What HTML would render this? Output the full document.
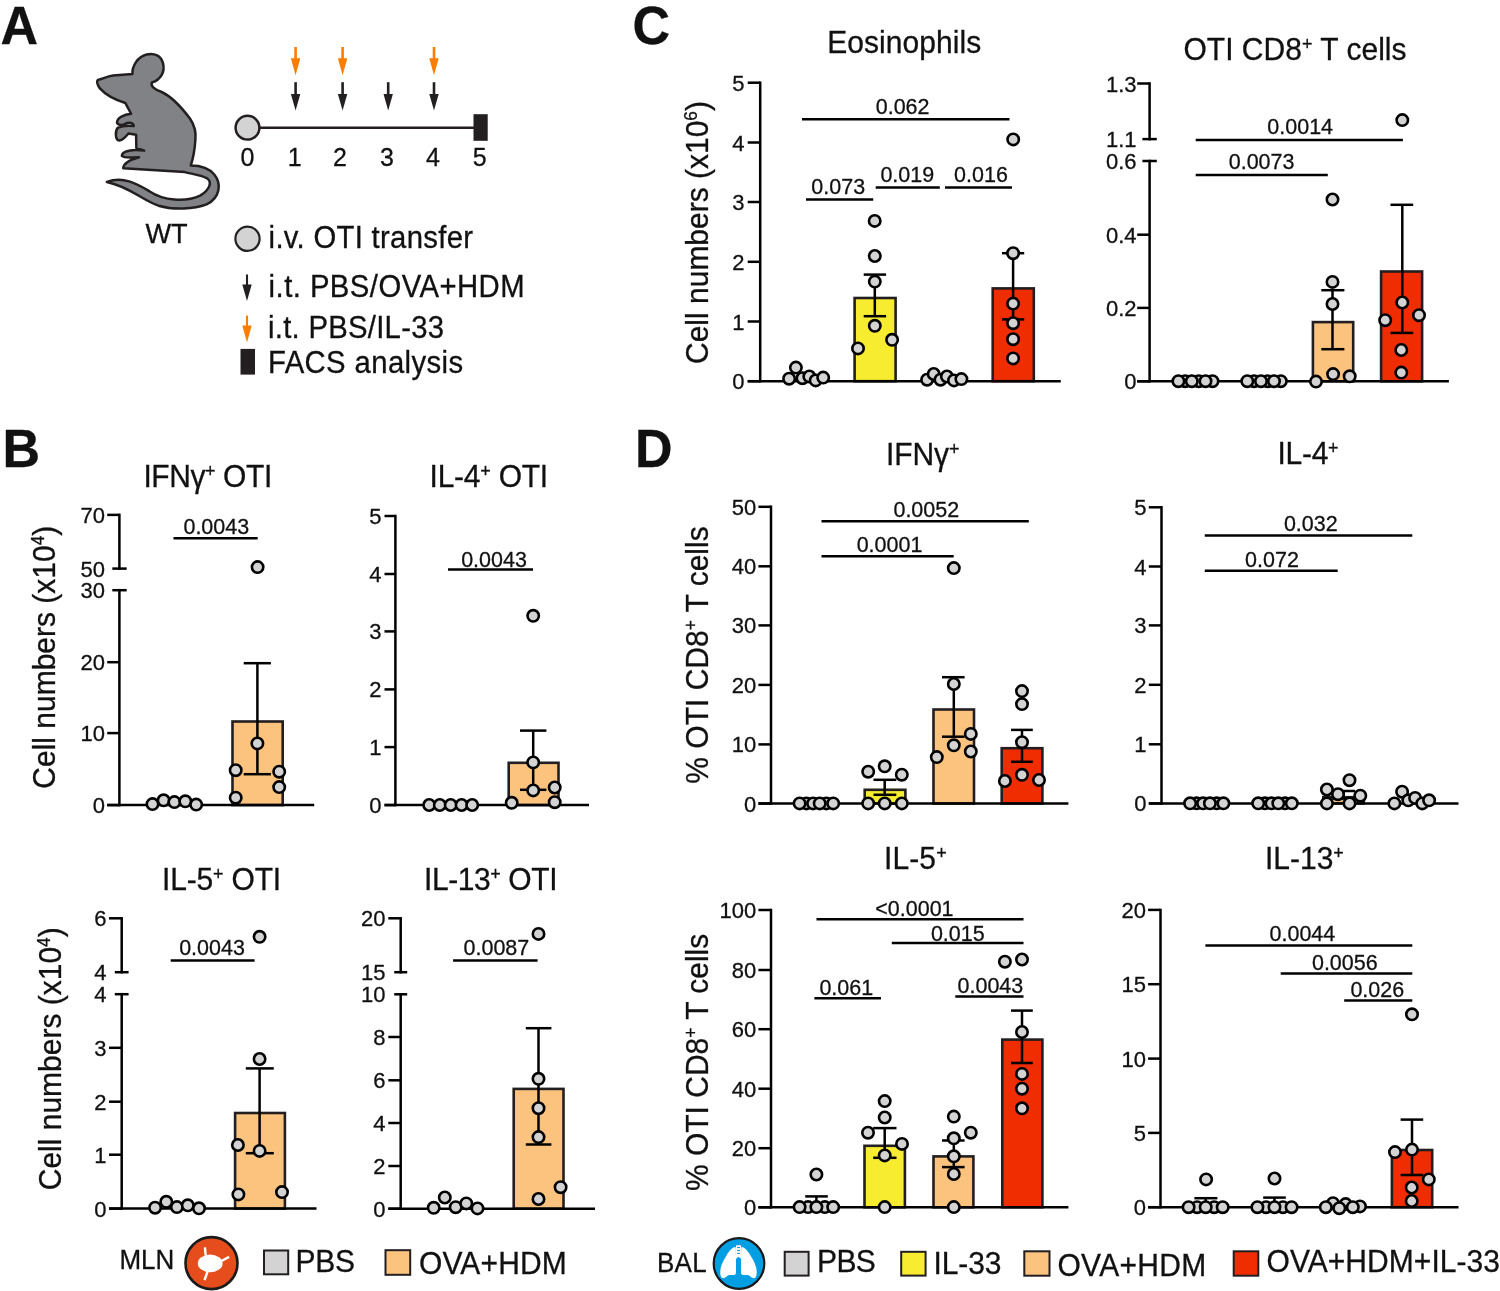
<!DOCTYPE html><html><head><meta charset="utf-8"><title>Figure</title><style>html,body{margin:0;padding:0;background:#fff;width:1500px;height:1291px;overflow:hidden}svg{display:block;font-family:"Liberation Sans", sans-serif;will-change:transform} text{stroke:#111;stroke-width:0.3px}</style></head><body><svg width="1500" height="1291" viewBox="0 0 1500 1291" font-family='"Liberation Sans", sans-serif' fill="#111">
<rect width="1500" height="1291" fill="#fff"/>
<text transform="translate(0.50,44.00) scale(0.9615,1)" font-size="54.08" text-anchor="start" font-weight="bold" >A</text>
<text transform="translate(2.50,467.00) scale(0.9615,1)" font-size="54.08" text-anchor="start" font-weight="bold" >B</text>
<text transform="translate(632.50,43.50) scale(0.9615,1)" font-size="54.08" text-anchor="start" font-weight="bold" >C</text>
<text transform="translate(635.00,467.00) scale(0.9615,1)" font-size="54.08" text-anchor="start" font-weight="bold" >D</text>
<path transform="translate(90,45) scale(0.13170)" d="M60,265 C100,255 130,238 175,232 L322,220 C320,160 360,90 430,72 C490,60 540,80 555,140 C570,200 540,262 470,285 C458,312 490,338 540,355 C620,390 700,480 760,560 C800,620 805,680 800,720 C795,800 780,870 765,915 C830,915 905,935 945,985 C995,1048 995,1155 885,1210 C790,1245 640,1255 520,1220 C400,1180 300,1075 128,1040 C250,995 350,1050 450,1110 C560,1182 720,1198 840,1142 C905,1100 935,1040 885,1010 C845,990 780,980 720,965 L252,935 C255,900 300,872 372,852 C320,852 262,862 242,842 C240,800 330,792 412,802 L352,782 L350,682 L292,672 C272,695 252,722 222,726 C190,722 190,652 212,628 C250,612 300,612 332,616 C332,594 300,582 272,596 C250,610 215,612 205,590 C205,550 260,528 312,522 L268,440 C200,420 120,380 75,330 C55,300 50,275 60,265 Z" fill="#808285" stroke="#231f20" stroke-width="19" stroke-linejoin="round"/>
<text transform="translate(166.60,242.70) scale(0.9615,1)" font-size="28.29" text-anchor="middle" font-weight="normal" >WT</text>
<line x1="259.00" y1="127.70" x2="474.00" y2="127.70" stroke="#231f20" stroke-width="2.4" stroke-linecap="butt"/>
<circle cx="247.5" cy="127.7" r="11.9" fill="#d3d3d3" stroke="#231f20" stroke-width="2.5"/>
<rect x="473.5" y="114.2" width="14.2" height="26.6" fill="#231f20"/>
<text transform="translate(247.40,166.00) scale(0.9615,1)" font-size="26.00" text-anchor="middle" font-weight="normal" >0</text>
<text transform="translate(294.70,166.00) scale(0.9615,1)" font-size="26.00" text-anchor="middle" font-weight="normal" >1</text>
<text transform="translate(340.00,166.00) scale(0.9615,1)" font-size="26.00" text-anchor="middle" font-weight="normal" >2</text>
<text transform="translate(386.90,166.00) scale(0.9615,1)" font-size="26.00" text-anchor="middle" font-weight="normal" >3</text>
<text transform="translate(433.00,166.00) scale(0.9615,1)" font-size="26.00" text-anchor="middle" font-weight="normal" >4</text>
<text transform="translate(479.80,166.00) scale(0.9615,1)" font-size="26.00" text-anchor="middle" font-weight="normal" >5</text>
<line x1="295.6" y1="47.0" x2="295.6" y2="60.2" stroke="#fb7d00" stroke-width="2.6"/>
<path d="M290.90000000000003,58.2 L300.3,58.2 L295.6,75.2 Z" fill="#fb7d00"/>
<line x1="342.6" y1="47.0" x2="342.6" y2="60.2" stroke="#fb7d00" stroke-width="2.6"/>
<path d="M337.90000000000003,58.2 L347.3,58.2 L342.6,75.2 Z" fill="#fb7d00"/>
<line x1="434.0" y1="47.0" x2="434.0" y2="60.2" stroke="#fb7d00" stroke-width="2.6"/>
<path d="M429.3,58.2 L438.7,58.2 L434.0,75.2 Z" fill="#fb7d00"/>
<line x1="295.6" y1="82.2" x2="295.6" y2="96.1" stroke="#231f20" stroke-width="2.6"/>
<path d="M290.90000000000003,94.1 L300.3,94.1 L295.6,110.6 Z" fill="#231f20"/>
<line x1="342.6" y1="82.2" x2="342.6" y2="96.1" stroke="#231f20" stroke-width="2.6"/>
<path d="M337.90000000000003,94.1 L347.3,94.1 L342.6,110.6 Z" fill="#231f20"/>
<line x1="388.2" y1="82.2" x2="388.2" y2="96.1" stroke="#231f20" stroke-width="2.6"/>
<path d="M383.5,94.1 L392.9,94.1 L388.2,110.6 Z" fill="#231f20"/>
<line x1="434.0" y1="82.2" x2="434.0" y2="96.1" stroke="#231f20" stroke-width="2.6"/>
<path d="M429.3,94.1 L438.7,94.1 L434.0,110.6 Z" fill="#231f20"/>
<circle cx="247.5" cy="238.8" r="12.1" fill="#d3d3d3" stroke="#231f20" stroke-width="2.2"/>
<text transform="translate(268.60,248.30) scale(0.9615,1)" font-size="30.47" text-anchor="start" font-weight="normal" letter-spacing="0.312" >i.v. OTI transfer</text>
<line x1="247.0" y1="274.5" x2="247.0" y2="286.6" stroke="#231f20" stroke-width="2.1"/>
<path d="M242.3,284.6 L251.7,284.6 L247.0,301.1 Z" fill="#231f20"/>
<text transform="translate(268.60,297.40) scale(0.9615,1)" font-size="30.47" text-anchor="start" font-weight="normal" letter-spacing="0.466" >i.t. PBS/OVA+HDM</text>
<line x1="247.0" y1="315.6" x2="247.0" y2="327.5" stroke="#fb7d00" stroke-width="2.1"/>
<path d="M242.3,325.5 L251.7,325.5 L247.0,342.4 Z" fill="#fb7d00"/>
<text transform="translate(268.00,338.30) scale(0.9615,1)" font-size="30.47" text-anchor="start" font-weight="normal" letter-spacing="0.278" >i.t. PBS/IL-33</text>
<rect x="240.5" y="348.9" width="14.5" height="25.7" fill="#231f20"/>
<text transform="translate(268.00,373.40) scale(0.9615,1)" font-size="30.47" text-anchor="start" font-weight="normal" letter-spacing="0.400" >FACS analysis</text>
<rect x="232.50" y="721.50" width="50.20" height="83.60" fill="#fcc37f" stroke="#231f20" stroke-width="2.6"/>
<line x1="257.40" y1="663.20" x2="257.40" y2="774.20" stroke="#000" stroke-width="2.5" stroke-linecap="butt"/>
<line x1="243.70" y1="663.20" x2="270.90" y2="663.20" stroke="#000" stroke-width="2.5" stroke-linecap="butt"/>
<line x1="243.70" y1="774.20" x2="270.90" y2="774.20" stroke="#000" stroke-width="2.5" stroke-linecap="butt"/>
<line x1="119.40" y1="513.65" x2="119.40" y2="569.85" stroke="#000" stroke-width="2.5" stroke-linecap="butt"/>
<line x1="119.40" y1="588.95" x2="119.40" y2="806.35" stroke="#000" stroke-width="2.5" stroke-linecap="butt"/>
<line x1="107.20" y1="805.10" x2="314.20" y2="805.10" stroke="#000" stroke-width="2.5" stroke-linecap="butt"/>
<line x1="107.20" y1="514.90" x2="119.40" y2="514.90" stroke="#000" stroke-width="2.5" stroke-linecap="butt"/>
<text transform="translate(105.00,522.98) scale(0.9615,1)" font-size="22.88" text-anchor="end" font-weight="normal" >70</text>
<line x1="112.30" y1="568.60" x2="126.70" y2="568.60" stroke="#000" stroke-width="2.5" stroke-linecap="butt"/>
<text transform="translate(105.00,576.68) scale(0.9615,1)" font-size="22.88" text-anchor="end" font-weight="normal" >50</text>
<line x1="112.30" y1="590.20" x2="126.70" y2="590.20" stroke="#000" stroke-width="2.5" stroke-linecap="butt"/>
<text transform="translate(105.00,598.28) scale(0.9615,1)" font-size="22.88" text-anchor="end" font-weight="normal" >30</text>
<line x1="107.20" y1="662.20" x2="119.40" y2="662.20" stroke="#000" stroke-width="2.5" stroke-linecap="butt"/>
<text transform="translate(105.00,670.28) scale(0.9615,1)" font-size="22.88" text-anchor="end" font-weight="normal" >20</text>
<line x1="107.20" y1="733.10" x2="119.40" y2="733.10" stroke="#000" stroke-width="2.5" stroke-linecap="butt"/>
<text transform="translate(105.00,741.18) scale(0.9615,1)" font-size="22.88" text-anchor="end" font-weight="normal" >10</text>
<line x1="107.20" y1="805.10" x2="119.40" y2="805.10" stroke="#000" stroke-width="2.5" stroke-linecap="butt"/>
<text transform="translate(105.00,813.18) scale(0.9615,1)" font-size="22.88" text-anchor="end" font-weight="normal" >0</text>
<line x1="173.50" y1="538.30" x2="257.70" y2="538.30" stroke="#000" stroke-width="2.5" stroke-linecap="butt"/>
<text transform="translate(216.30,534.00) scale(0.9615,1)" font-size="22.36" text-anchor="middle" font-weight="normal" >0.0043</text>
<circle cx="152.50" cy="804.10" r="5.7" fill="#d3d3d3" stroke="#000" stroke-width="2.6"/>
<circle cx="163.60" cy="800.30" r="5.7" fill="#d3d3d3" stroke="#000" stroke-width="2.6"/>
<circle cx="174.40" cy="802.10" r="5.7" fill="#d3d3d3" stroke="#000" stroke-width="2.6"/>
<circle cx="185.30" cy="801.30" r="5.7" fill="#d3d3d3" stroke="#000" stroke-width="2.6"/>
<circle cx="196.20" cy="804.60" r="5.7" fill="#d3d3d3" stroke="#000" stroke-width="2.6"/>
<circle cx="257.60" cy="567.10" r="5.7" fill="#d3d3d3" stroke="#000" stroke-width="2.6"/>
<circle cx="257.40" cy="743.40" r="5.7" fill="#d3d3d3" stroke="#000" stroke-width="2.6"/>
<circle cx="235.70" cy="770.20" r="5.7" fill="#d3d3d3" stroke="#000" stroke-width="2.6"/>
<circle cx="279.20" cy="771.70" r="5.7" fill="#d3d3d3" stroke="#000" stroke-width="2.6"/>
<circle cx="279.20" cy="787.10" r="5.7" fill="#d3d3d3" stroke="#000" stroke-width="2.6"/>
<circle cx="235.70" cy="797.70" r="5.7" fill="#d3d3d3" stroke="#000" stroke-width="2.6"/>
<rect x="508.70" y="762.80" width="49.80" height="42.30" fill="#fcc37f" stroke="#231f20" stroke-width="2.6"/>
<line x1="533.20" y1="730.60" x2="533.20" y2="789.80" stroke="#000" stroke-width="2.5" stroke-linecap="butt"/>
<line x1="520.00" y1="730.60" x2="546.40" y2="730.60" stroke="#000" stroke-width="2.5" stroke-linecap="butt"/>
<line x1="520.00" y1="789.80" x2="546.40" y2="789.80" stroke="#000" stroke-width="2.5" stroke-linecap="butt"/>
<line x1="395.40" y1="514.75" x2="395.40" y2="806.35" stroke="#000" stroke-width="2.5" stroke-linecap="butt"/>
<line x1="384.50" y1="805.10" x2="589.00" y2="805.10" stroke="#000" stroke-width="2.5" stroke-linecap="butt"/>
<line x1="384.50" y1="516.00" x2="395.40" y2="516.00" stroke="#000" stroke-width="2.5" stroke-linecap="butt"/>
<text transform="translate(381.50,524.08) scale(0.9615,1)" font-size="22.88" text-anchor="end" font-weight="normal" >5</text>
<line x1="384.50" y1="574.00" x2="395.40" y2="574.00" stroke="#000" stroke-width="2.5" stroke-linecap="butt"/>
<text transform="translate(381.50,582.08) scale(0.9615,1)" font-size="22.88" text-anchor="end" font-weight="normal" >4</text>
<line x1="384.50" y1="631.40" x2="395.40" y2="631.40" stroke="#000" stroke-width="2.5" stroke-linecap="butt"/>
<text transform="translate(381.50,639.48) scale(0.9615,1)" font-size="22.88" text-anchor="end" font-weight="normal" >3</text>
<line x1="384.50" y1="689.40" x2="395.40" y2="689.40" stroke="#000" stroke-width="2.5" stroke-linecap="butt"/>
<text transform="translate(381.50,697.48) scale(0.9615,1)" font-size="22.88" text-anchor="end" font-weight="normal" >2</text>
<line x1="384.50" y1="747.10" x2="395.40" y2="747.10" stroke="#000" stroke-width="2.5" stroke-linecap="butt"/>
<text transform="translate(381.50,755.18) scale(0.9615,1)" font-size="22.88" text-anchor="end" font-weight="normal" >1</text>
<line x1="384.50" y1="805.10" x2="395.40" y2="805.10" stroke="#000" stroke-width="2.5" stroke-linecap="butt"/>
<text transform="translate(381.50,813.18) scale(0.9615,1)" font-size="22.88" text-anchor="end" font-weight="normal" >0</text>
<line x1="448.00" y1="569.60" x2="533.00" y2="569.60" stroke="#000" stroke-width="2.5" stroke-linecap="butt"/>
<text transform="translate(494.00,566.60) scale(0.9615,1)" font-size="22.36" text-anchor="middle" font-weight="normal" >0.0043</text>
<circle cx="429.20" cy="805.00" r="5.7" fill="#d3d3d3" stroke="#000" stroke-width="2.6"/>
<circle cx="439.80" cy="805.00" r="5.7" fill="#d3d3d3" stroke="#000" stroke-width="2.6"/>
<circle cx="450.70" cy="805.00" r="5.7" fill="#d3d3d3" stroke="#000" stroke-width="2.6"/>
<circle cx="461.60" cy="805.00" r="5.7" fill="#d3d3d3" stroke="#000" stroke-width="2.6"/>
<circle cx="472.20" cy="805.00" r="5.7" fill="#d3d3d3" stroke="#000" stroke-width="2.6"/>
<circle cx="533.20" cy="615.80" r="5.7" fill="#d3d3d3" stroke="#000" stroke-width="2.6"/>
<circle cx="533.20" cy="762.40" r="5.7" fill="#d3d3d3" stroke="#000" stroke-width="2.6"/>
<circle cx="554.70" cy="787.50" r="5.7" fill="#d3d3d3" stroke="#000" stroke-width="2.6"/>
<circle cx="533.20" cy="790.40" r="5.7" fill="#d3d3d3" stroke="#000" stroke-width="2.6"/>
<circle cx="511.70" cy="802.80" r="5.7" fill="#d3d3d3" stroke="#000" stroke-width="2.6"/>
<circle cx="554.70" cy="802.20" r="5.7" fill="#d3d3d3" stroke="#000" stroke-width="2.6"/>
<rect x="235.10" y="1113.00" width="49.80" height="95.60" fill="#fcc37f" stroke="#231f20" stroke-width="2.6"/>
<line x1="259.60" y1="1068.40" x2="259.60" y2="1153.20" stroke="#000" stroke-width="2.5" stroke-linecap="butt"/>
<line x1="245.80" y1="1068.40" x2="273.80" y2="1068.40" stroke="#000" stroke-width="2.5" stroke-linecap="butt"/>
<line x1="245.80" y1="1153.20" x2="273.80" y2="1153.20" stroke="#000" stroke-width="2.5" stroke-linecap="butt"/>
<line x1="121.70" y1="917.05" x2="121.70" y2="973.45" stroke="#000" stroke-width="2.5" stroke-linecap="butt"/>
<line x1="121.70" y1="992.95" x2="121.70" y2="1209.85" stroke="#000" stroke-width="2.5" stroke-linecap="butt"/>
<line x1="109.00" y1="1208.60" x2="316.50" y2="1208.60" stroke="#000" stroke-width="2.5" stroke-linecap="butt"/>
<line x1="109.00" y1="918.30" x2="121.70" y2="918.30" stroke="#000" stroke-width="2.5" stroke-linecap="butt"/>
<text transform="translate(106.50,926.38) scale(0.9615,1)" font-size="22.88" text-anchor="end" font-weight="normal" >6</text>
<line x1="114.80" y1="972.20" x2="128.60" y2="972.20" stroke="#000" stroke-width="2.5" stroke-linecap="butt"/>
<text transform="translate(106.50,980.28) scale(0.9615,1)" font-size="22.88" text-anchor="end" font-weight="normal" >4</text>
<line x1="114.80" y1="994.20" x2="128.60" y2="994.20" stroke="#000" stroke-width="2.5" stroke-linecap="butt"/>
<text transform="translate(106.50,1002.28) scale(0.9615,1)" font-size="22.88" text-anchor="end" font-weight="normal" >4</text>
<line x1="109.00" y1="1047.80" x2="121.70" y2="1047.80" stroke="#000" stroke-width="2.5" stroke-linecap="butt"/>
<text transform="translate(106.50,1055.88) scale(0.9615,1)" font-size="22.88" text-anchor="end" font-weight="normal" >3</text>
<line x1="109.00" y1="1101.70" x2="121.70" y2="1101.70" stroke="#000" stroke-width="2.5" stroke-linecap="butt"/>
<text transform="translate(106.50,1109.78) scale(0.9615,1)" font-size="22.88" text-anchor="end" font-weight="normal" >2</text>
<line x1="109.00" y1="1154.70" x2="121.70" y2="1154.70" stroke="#000" stroke-width="2.5" stroke-linecap="butt"/>
<text transform="translate(106.50,1162.78) scale(0.9615,1)" font-size="22.88" text-anchor="end" font-weight="normal" >1</text>
<line x1="109.00" y1="1208.60" x2="121.70" y2="1208.60" stroke="#000" stroke-width="2.5" stroke-linecap="butt"/>
<text transform="translate(106.50,1216.68) scale(0.9615,1)" font-size="22.88" text-anchor="end" font-weight="normal" >0</text>
<line x1="170.70" y1="960.40" x2="254.60" y2="960.40" stroke="#000" stroke-width="2.5" stroke-linecap="butt"/>
<text transform="translate(212.00,955.30) scale(0.9615,1)" font-size="22.36" text-anchor="middle" font-weight="normal" >0.0043</text>
<circle cx="155.10" cy="1207.70" r="5.7" fill="#d3d3d3" stroke="#000" stroke-width="2.6"/>
<circle cx="166.30" cy="1201.80" r="5.7" fill="#d3d3d3" stroke="#000" stroke-width="2.6"/>
<circle cx="176.90" cy="1207.10" r="5.7" fill="#d3d3d3" stroke="#000" stroke-width="2.6"/>
<circle cx="187.80" cy="1205.30" r="5.7" fill="#d3d3d3" stroke="#000" stroke-width="2.6"/>
<circle cx="199.00" cy="1208.30" r="5.7" fill="#d3d3d3" stroke="#000" stroke-width="2.6"/>
<circle cx="259.60" cy="936.80" r="5.7" fill="#d3d3d3" stroke="#000" stroke-width="2.6"/>
<circle cx="259.60" cy="1059.00" r="5.7" fill="#d3d3d3" stroke="#000" stroke-width="2.6"/>
<circle cx="237.90" cy="1145.00" r="5.7" fill="#d3d3d3" stroke="#000" stroke-width="2.6"/>
<circle cx="259.60" cy="1150.90" r="5.7" fill="#d3d3d3" stroke="#000" stroke-width="2.6"/>
<circle cx="282.00" cy="1192.10" r="5.7" fill="#d3d3d3" stroke="#000" stroke-width="2.6"/>
<circle cx="238.40" cy="1194.40" r="5.7" fill="#d3d3d3" stroke="#000" stroke-width="2.6"/>
<rect x="513.70" y="1088.90" width="49.80" height="119.80" fill="#fcc37f" stroke="#231f20" stroke-width="2.6"/>
<line x1="538.50" y1="1028.20" x2="538.50" y2="1144.50" stroke="#000" stroke-width="2.5" stroke-linecap="butt"/>
<line x1="525.80" y1="1028.20" x2="551.40" y2="1028.20" stroke="#000" stroke-width="2.5" stroke-linecap="butt"/>
<line x1="525.80" y1="1144.50" x2="551.40" y2="1144.50" stroke="#000" stroke-width="2.5" stroke-linecap="butt"/>
<line x1="400.70" y1="917.05" x2="400.70" y2="973.45" stroke="#000" stroke-width="2.5" stroke-linecap="butt"/>
<line x1="400.70" y1="993.05" x2="400.70" y2="1209.95" stroke="#000" stroke-width="2.5" stroke-linecap="butt"/>
<line x1="388.30" y1="1208.70" x2="595.00" y2="1208.70" stroke="#000" stroke-width="2.5" stroke-linecap="butt"/>
<line x1="388.30" y1="918.30" x2="400.70" y2="918.30" stroke="#000" stroke-width="2.5" stroke-linecap="butt"/>
<text transform="translate(385.50,926.38) scale(0.9615,1)" font-size="22.88" text-anchor="end" font-weight="normal" >20</text>
<line x1="394.20" y1="972.20" x2="407.20" y2="972.20" stroke="#000" stroke-width="2.5" stroke-linecap="butt"/>
<text transform="translate(385.50,980.28) scale(0.9615,1)" font-size="22.88" text-anchor="end" font-weight="normal" >15</text>
<line x1="394.20" y1="994.30" x2="407.20" y2="994.30" stroke="#000" stroke-width="2.5" stroke-linecap="butt"/>
<text transform="translate(385.50,1002.38) scale(0.9615,1)" font-size="22.88" text-anchor="end" font-weight="normal" >10</text>
<line x1="388.30" y1="1037.00" x2="400.70" y2="1037.00" stroke="#000" stroke-width="2.5" stroke-linecap="butt"/>
<text transform="translate(385.50,1045.08) scale(0.9615,1)" font-size="22.88" text-anchor="end" font-weight="normal" >8</text>
<line x1="388.30" y1="1080.30" x2="400.70" y2="1080.30" stroke="#000" stroke-width="2.5" stroke-linecap="butt"/>
<text transform="translate(385.50,1088.38) scale(0.9615,1)" font-size="22.88" text-anchor="end" font-weight="normal" >6</text>
<line x1="388.30" y1="1123.00" x2="400.70" y2="1123.00" stroke="#000" stroke-width="2.5" stroke-linecap="butt"/>
<text transform="translate(385.50,1131.08) scale(0.9615,1)" font-size="22.88" text-anchor="end" font-weight="normal" >4</text>
<line x1="388.30" y1="1166.00" x2="400.70" y2="1166.00" stroke="#000" stroke-width="2.5" stroke-linecap="butt"/>
<text transform="translate(385.50,1174.08) scale(0.9615,1)" font-size="22.88" text-anchor="end" font-weight="normal" >2</text>
<line x1="388.30" y1="1208.70" x2="400.70" y2="1208.70" stroke="#000" stroke-width="2.5" stroke-linecap="butt"/>
<text transform="translate(385.50,1216.78) scale(0.9615,1)" font-size="22.88" text-anchor="end" font-weight="normal" >0</text>
<line x1="453.10" y1="960.40" x2="537.60" y2="960.40" stroke="#000" stroke-width="2.5" stroke-linecap="butt"/>
<text transform="translate(496.40,955.30) scale(0.9615,1)" font-size="22.36" text-anchor="middle" font-weight="normal" >0.0087</text>
<circle cx="433.70" cy="1207.80" r="5.7" fill="#d3d3d3" stroke="#000" stroke-width="2.6"/>
<circle cx="444.80" cy="1197.50" r="5.7" fill="#d3d3d3" stroke="#000" stroke-width="2.6"/>
<circle cx="455.70" cy="1207.20" r="5.7" fill="#d3d3d3" stroke="#000" stroke-width="2.6"/>
<circle cx="466.30" cy="1203.40" r="5.7" fill="#d3d3d3" stroke="#000" stroke-width="2.6"/>
<circle cx="477.50" cy="1208.40" r="5.7" fill="#d3d3d3" stroke="#000" stroke-width="2.6"/>
<circle cx="538.50" cy="933.90" r="5.7" fill="#d3d3d3" stroke="#000" stroke-width="2.6"/>
<circle cx="538.50" cy="1078.80" r="5.7" fill="#d3d3d3" stroke="#000" stroke-width="2.6"/>
<circle cx="538.50" cy="1108.20" r="5.7" fill="#d3d3d3" stroke="#000" stroke-width="2.6"/>
<circle cx="538.50" cy="1137.10" r="5.7" fill="#d3d3d3" stroke="#000" stroke-width="2.6"/>
<circle cx="560.60" cy="1187.20" r="5.7" fill="#d3d3d3" stroke="#000" stroke-width="2.6"/>
<circle cx="538.50" cy="1199.00" r="5.7" fill="#d3d3d3" stroke="#000" stroke-width="2.6"/>
<rect x="854.60" y="298.00" width="41.00" height="83.20" fill="#f8ec31" stroke="#231f20" stroke-width="2.6"/>
<rect x="992.70" y="288.40" width="41.10" height="92.80" fill="#f02d00" stroke="#231f20" stroke-width="2.6"/>
<line x1="874.80" y1="274.60" x2="874.80" y2="316.20" stroke="#000" stroke-width="2.5" stroke-linecap="butt"/>
<line x1="863.70" y1="274.60" x2="886.10" y2="274.60" stroke="#000" stroke-width="2.5" stroke-linecap="butt"/>
<line x1="863.70" y1="316.20" x2="886.10" y2="316.20" stroke="#000" stroke-width="2.5" stroke-linecap="butt"/>
<line x1="1013.10" y1="253.20" x2="1013.10" y2="319.40" stroke="#000" stroke-width="2.5" stroke-linecap="butt"/>
<line x1="1002.00" y1="253.20" x2="1024.20" y2="253.20" stroke="#000" stroke-width="2.5" stroke-linecap="butt"/>
<line x1="1002.00" y1="319.40" x2="1024.20" y2="319.40" stroke="#000" stroke-width="2.5" stroke-linecap="butt"/>
<line x1="760.20" y1="81.45" x2="760.20" y2="382.45" stroke="#000" stroke-width="2.5" stroke-linecap="butt"/>
<line x1="747.70" y1="381.20" x2="1060.80" y2="381.20" stroke="#000" stroke-width="2.5" stroke-linecap="butt"/>
<line x1="747.70" y1="82.70" x2="760.20" y2="82.70" stroke="#000" stroke-width="2.5" stroke-linecap="butt"/>
<text transform="translate(744.50,90.78) scale(0.9615,1)" font-size="22.88" text-anchor="end" font-weight="normal" >5</text>
<line x1="747.70" y1="142.50" x2="760.20" y2="142.50" stroke="#000" stroke-width="2.5" stroke-linecap="butt"/>
<text transform="translate(744.50,150.58) scale(0.9615,1)" font-size="22.88" text-anchor="end" font-weight="normal" >4</text>
<line x1="747.70" y1="202.00" x2="760.20" y2="202.00" stroke="#000" stroke-width="2.5" stroke-linecap="butt"/>
<text transform="translate(744.50,210.08) scale(0.9615,1)" font-size="22.88" text-anchor="end" font-weight="normal" >3</text>
<line x1="747.70" y1="261.80" x2="760.20" y2="261.80" stroke="#000" stroke-width="2.5" stroke-linecap="butt"/>
<text transform="translate(744.50,269.88) scale(0.9615,1)" font-size="22.88" text-anchor="end" font-weight="normal" >2</text>
<line x1="747.70" y1="321.50" x2="760.20" y2="321.50" stroke="#000" stroke-width="2.5" stroke-linecap="butt"/>
<text transform="translate(744.50,329.58) scale(0.9615,1)" font-size="22.88" text-anchor="end" font-weight="normal" >1</text>
<line x1="747.70" y1="381.20" x2="760.20" y2="381.20" stroke="#000" stroke-width="2.5" stroke-linecap="butt"/>
<text transform="translate(744.50,389.28) scale(0.9615,1)" font-size="22.88" text-anchor="end" font-weight="normal" >0</text>
<line x1="802.00" y1="119.20" x2="1009.50" y2="119.20" stroke="#000" stroke-width="2.5" stroke-linecap="butt"/>
<text transform="translate(902.60,114.20) scale(0.9615,1)" font-size="22.36" text-anchor="middle" font-weight="normal" >0.062</text>
<line x1="806.00" y1="199.60" x2="873.20" y2="199.60" stroke="#000" stroke-width="2.5" stroke-linecap="butt"/>
<text transform="translate(838.20,193.70) scale(0.9615,1)" font-size="22.36" text-anchor="middle" font-weight="normal" >0.073</text>
<line x1="875.70" y1="187.40" x2="939.80" y2="187.40" stroke="#000" stroke-width="2.5" stroke-linecap="butt"/>
<text transform="translate(907.30,181.70) scale(0.9615,1)" font-size="22.36" text-anchor="middle" font-weight="normal" >0.019</text>
<line x1="945.00" y1="187.40" x2="1012.00" y2="187.40" stroke="#000" stroke-width="2.5" stroke-linecap="butt"/>
<text transform="translate(981.00,181.70) scale(0.9615,1)" font-size="22.36" text-anchor="middle" font-weight="normal" >0.016</text>
<circle cx="789.10" cy="378.70" r="5.7" fill="#d3d3d3" stroke="#000" stroke-width="2.6"/>
<circle cx="795.90" cy="367.60" r="5.7" fill="#d3d3d3" stroke="#000" stroke-width="2.6"/>
<circle cx="802.50" cy="378.20" r="5.7" fill="#d3d3d3" stroke="#000" stroke-width="2.6"/>
<circle cx="809.30" cy="376.50" r="5.7" fill="#d3d3d3" stroke="#000" stroke-width="2.6"/>
<circle cx="815.70" cy="380.40" r="5.7" fill="#d3d3d3" stroke="#000" stroke-width="2.6"/>
<circle cx="823.20" cy="377.60" r="5.7" fill="#d3d3d3" stroke="#000" stroke-width="2.6"/>
<circle cx="874.70" cy="220.90" r="5.7" fill="#d3d3d3" stroke="#000" stroke-width="2.6"/>
<circle cx="874.80" cy="256.00" r="5.7" fill="#d3d3d3" stroke="#000" stroke-width="2.6"/>
<circle cx="874.80" cy="281.60" r="5.7" fill="#d3d3d3" stroke="#000" stroke-width="2.6"/>
<circle cx="874.80" cy="325.80" r="5.7" fill="#d3d3d3" stroke="#000" stroke-width="2.6"/>
<circle cx="892.10" cy="339.80" r="5.7" fill="#d3d3d3" stroke="#000" stroke-width="2.6"/>
<circle cx="858.00" cy="348.40" r="5.7" fill="#d3d3d3" stroke="#000" stroke-width="2.6"/>
<circle cx="927.10" cy="379.70" r="5.7" fill="#d3d3d3" stroke="#000" stroke-width="2.6"/>
<circle cx="933.70" cy="374.00" r="5.7" fill="#d3d3d3" stroke="#000" stroke-width="2.6"/>
<circle cx="940.50" cy="379.70" r="5.7" fill="#d3d3d3" stroke="#000" stroke-width="2.6"/>
<circle cx="946.90" cy="376.50" r="5.7" fill="#d3d3d3" stroke="#000" stroke-width="2.6"/>
<circle cx="954.00" cy="380.40" r="5.7" fill="#d3d3d3" stroke="#000" stroke-width="2.6"/>
<circle cx="961.40" cy="379.10" r="5.7" fill="#d3d3d3" stroke="#000" stroke-width="2.6"/>
<circle cx="1013.20" cy="139.40" r="5.7" fill="#d3d3d3" stroke="#000" stroke-width="2.6"/>
<circle cx="1013.10" cy="253.20" r="5.7" fill="#d3d3d3" stroke="#000" stroke-width="2.6"/>
<circle cx="1013.10" cy="303.60" r="5.7" fill="#d3d3d3" stroke="#000" stroke-width="2.6"/>
<circle cx="1013.10" cy="323.20" r="5.7" fill="#d3d3d3" stroke="#000" stroke-width="2.6"/>
<circle cx="1013.10" cy="339.20" r="5.7" fill="#d3d3d3" stroke="#000" stroke-width="2.6"/>
<circle cx="1013.10" cy="358.40" r="5.7" fill="#d3d3d3" stroke="#000" stroke-width="2.6"/>
<rect x="1312.90" y="322.10" width="40.30" height="59.20" fill="#fcc37f" stroke="#231f20" stroke-width="2.6"/>
<rect x="1381.10" y="271.50" width="41.00" height="109.80" fill="#f02d00" stroke="#231f20" stroke-width="2.6"/>
<line x1="1332.50" y1="290.20" x2="1332.50" y2="349.20" stroke="#000" stroke-width="2.5" stroke-linecap="butt"/>
<line x1="1321.30" y1="290.20" x2="1344.40" y2="290.20" stroke="#000" stroke-width="2.5" stroke-linecap="butt"/>
<line x1="1321.30" y1="349.20" x2="1344.40" y2="349.20" stroke="#000" stroke-width="2.5" stroke-linecap="butt"/>
<line x1="1402.30" y1="204.80" x2="1402.30" y2="332.90" stroke="#000" stroke-width="2.5" stroke-linecap="butt"/>
<line x1="1390.50" y1="204.80" x2="1413.20" y2="204.80" stroke="#000" stroke-width="2.5" stroke-linecap="butt"/>
<line x1="1390.50" y1="332.90" x2="1413.20" y2="332.90" stroke="#000" stroke-width="2.5" stroke-linecap="butt"/>
<line x1="1149.60" y1="82.25" x2="1149.60" y2="140.35" stroke="#000" stroke-width="2.5" stroke-linecap="butt"/>
<line x1="1149.60" y1="159.75" x2="1149.60" y2="382.55" stroke="#000" stroke-width="2.5" stroke-linecap="butt"/>
<line x1="1137.20" y1="381.30" x2="1448.90" y2="381.30" stroke="#000" stroke-width="2.5" stroke-linecap="butt"/>
<line x1="1137.20" y1="83.50" x2="1149.60" y2="83.50" stroke="#000" stroke-width="2.5" stroke-linecap="butt"/>
<text transform="translate(1136.50,91.58) scale(0.9615,1)" font-size="22.88" text-anchor="end" font-weight="normal" >1.3</text>
<line x1="1142.40" y1="139.10" x2="1156.80" y2="139.10" stroke="#000" stroke-width="2.5" stroke-linecap="butt"/>
<text transform="translate(1136.50,147.18) scale(0.9615,1)" font-size="22.88" text-anchor="end" font-weight="normal" >1.1</text>
<line x1="1142.40" y1="161.00" x2="1156.80" y2="161.00" stroke="#000" stroke-width="2.5" stroke-linecap="butt"/>
<text transform="translate(1136.50,169.08) scale(0.9615,1)" font-size="22.88" text-anchor="end" font-weight="normal" >0.6</text>
<line x1="1137.20" y1="234.70" x2="1149.60" y2="234.70" stroke="#000" stroke-width="2.5" stroke-linecap="butt"/>
<text transform="translate(1136.50,242.78) scale(0.9615,1)" font-size="22.88" text-anchor="end" font-weight="normal" >0.4</text>
<line x1="1137.20" y1="307.90" x2="1149.60" y2="307.90" stroke="#000" stroke-width="2.5" stroke-linecap="butt"/>
<text transform="translate(1136.50,315.98) scale(0.9615,1)" font-size="22.88" text-anchor="end" font-weight="normal" >0.2</text>
<line x1="1137.20" y1="381.30" x2="1149.60" y2="381.30" stroke="#000" stroke-width="2.5" stroke-linecap="butt"/>
<text transform="translate(1136.50,389.38) scale(0.9615,1)" font-size="22.88" text-anchor="end" font-weight="normal" >0</text>
<line x1="1195.70" y1="140.10" x2="1402.90" y2="140.10" stroke="#000" stroke-width="2.5" stroke-linecap="butt"/>
<text transform="translate(1300.20,134.10) scale(0.9615,1)" font-size="22.36" text-anchor="middle" font-weight="normal" >0.0014</text>
<line x1="1195.70" y1="175.10" x2="1327.80" y2="175.10" stroke="#000" stroke-width="2.5" stroke-linecap="butt"/>
<text transform="translate(1261.60,169.40) scale(0.9615,1)" font-size="22.36" text-anchor="middle" font-weight="normal" >0.0073</text>
<circle cx="1185.20" cy="381.20" r="5.7" fill="#d3d3d3" stroke="#000" stroke-width="2.6"/>
<circle cx="1198.70" cy="381.20" r="5.7" fill="#d3d3d3" stroke="#000" stroke-width="2.6"/>
<circle cx="1212.50" cy="381.20" r="5.7" fill="#d3d3d3" stroke="#000" stroke-width="2.6"/>
<circle cx="1178.40" cy="381.20" r="5.7" fill="#d3d3d3" stroke="#000" stroke-width="2.6"/>
<circle cx="1191.80" cy="381.20" r="5.7" fill="#d3d3d3" stroke="#000" stroke-width="2.6"/>
<circle cx="1205.50" cy="381.20" r="5.7" fill="#d3d3d3" stroke="#000" stroke-width="2.6"/>
<circle cx="1254.10" cy="381.20" r="5.7" fill="#d3d3d3" stroke="#000" stroke-width="2.6"/>
<circle cx="1267.60" cy="381.20" r="5.7" fill="#d3d3d3" stroke="#000" stroke-width="2.6"/>
<circle cx="1280.80" cy="381.20" r="5.7" fill="#d3d3d3" stroke="#000" stroke-width="2.6"/>
<circle cx="1247.30" cy="381.20" r="5.7" fill="#d3d3d3" stroke="#000" stroke-width="2.6"/>
<circle cx="1261.00" cy="381.20" r="5.7" fill="#d3d3d3" stroke="#000" stroke-width="2.6"/>
<circle cx="1274.00" cy="381.20" r="5.7" fill="#d3d3d3" stroke="#000" stroke-width="2.6"/>
<circle cx="1332.50" cy="199.50" r="5.7" fill="#d3d3d3" stroke="#000" stroke-width="2.6"/>
<circle cx="1332.50" cy="281.90" r="5.7" fill="#d3d3d3" stroke="#000" stroke-width="2.6"/>
<circle cx="1332.50" cy="304.00" r="5.7" fill="#d3d3d3" stroke="#000" stroke-width="2.6"/>
<circle cx="1316.00" cy="381.60" r="5.7" fill="#d3d3d3" stroke="#000" stroke-width="2.6"/>
<circle cx="1333.10" cy="374.10" r="5.7" fill="#d3d3d3" stroke="#000" stroke-width="2.6"/>
<circle cx="1349.70" cy="376.30" r="5.7" fill="#d3d3d3" stroke="#000" stroke-width="2.6"/>
<circle cx="1402.30" cy="120.10" r="5.7" fill="#d3d3d3" stroke="#000" stroke-width="2.6"/>
<circle cx="1402.30" cy="302.50" r="5.7" fill="#d3d3d3" stroke="#000" stroke-width="2.6"/>
<circle cx="1419.00" cy="315.20" r="5.7" fill="#d3d3d3" stroke="#000" stroke-width="2.6"/>
<circle cx="1385.20" cy="320.20" r="5.7" fill="#d3d3d3" stroke="#000" stroke-width="2.6"/>
<circle cx="1401.30" cy="350.00" r="5.7" fill="#d3d3d3" stroke="#000" stroke-width="2.6"/>
<circle cx="1401.30" cy="372.60" r="5.7" fill="#d3d3d3" stroke="#000" stroke-width="2.6"/>
<rect x="864.70" y="789.80" width="40.70" height="13.70" fill="#f8ec31" stroke="#231f20" stroke-width="2.6"/>
<rect x="933.50" y="709.50" width="40.50" height="94.00" fill="#fcc37f" stroke="#231f20" stroke-width="2.6"/>
<rect x="1001.70" y="748.20" width="40.70" height="55.30" fill="#f02d00" stroke="#231f20" stroke-width="2.6"/>
<line x1="884.70" y1="779.80" x2="884.70" y2="794.80" stroke="#000" stroke-width="2.5" stroke-linecap="butt"/>
<line x1="873.50" y1="779.80" x2="896.30" y2="779.80" stroke="#000" stroke-width="2.5" stroke-linecap="butt"/>
<line x1="873.50" y1="794.80" x2="896.30" y2="794.80" stroke="#000" stroke-width="2.5" stroke-linecap="butt"/>
<line x1="953.80" y1="677.20" x2="953.80" y2="736.70" stroke="#000" stroke-width="2.5" stroke-linecap="butt"/>
<line x1="942.00" y1="677.20" x2="964.60" y2="677.20" stroke="#000" stroke-width="2.5" stroke-linecap="butt"/>
<line x1="942.00" y1="736.70" x2="964.60" y2="736.70" stroke="#000" stroke-width="2.5" stroke-linecap="butt"/>
<line x1="1022.00" y1="729.90" x2="1022.00" y2="761.80" stroke="#000" stroke-width="2.5" stroke-linecap="butt"/>
<line x1="1011.00" y1="729.90" x2="1032.80" y2="729.90" stroke="#000" stroke-width="2.5" stroke-linecap="butt"/>
<line x1="1011.00" y1="761.80" x2="1032.80" y2="761.80" stroke="#000" stroke-width="2.5" stroke-linecap="butt"/>
<line x1="771.00" y1="505.55" x2="771.00" y2="804.75" stroke="#000" stroke-width="2.5" stroke-linecap="butt"/>
<line x1="758.40" y1="803.50" x2="1068.40" y2="803.50" stroke="#000" stroke-width="2.5" stroke-linecap="butt"/>
<line x1="758.40" y1="506.80" x2="771.00" y2="506.80" stroke="#000" stroke-width="2.5" stroke-linecap="butt"/>
<text transform="translate(756.30,514.88) scale(0.9615,1)" font-size="22.88" text-anchor="end" font-weight="normal" >50</text>
<line x1="758.40" y1="566.30" x2="771.00" y2="566.30" stroke="#000" stroke-width="2.5" stroke-linecap="butt"/>
<text transform="translate(756.30,574.38) scale(0.9615,1)" font-size="22.88" text-anchor="end" font-weight="normal" >40</text>
<line x1="758.40" y1="625.40" x2="771.00" y2="625.40" stroke="#000" stroke-width="2.5" stroke-linecap="butt"/>
<text transform="translate(756.30,633.48) scale(0.9615,1)" font-size="22.88" text-anchor="end" font-weight="normal" >30</text>
<line x1="758.40" y1="684.90" x2="771.00" y2="684.90" stroke="#000" stroke-width="2.5" stroke-linecap="butt"/>
<text transform="translate(756.30,692.98) scale(0.9615,1)" font-size="22.88" text-anchor="end" font-weight="normal" >20</text>
<line x1="758.40" y1="744.40" x2="771.00" y2="744.40" stroke="#000" stroke-width="2.5" stroke-linecap="butt"/>
<text transform="translate(756.30,752.48) scale(0.9615,1)" font-size="22.88" text-anchor="end" font-weight="normal" >10</text>
<line x1="758.40" y1="803.50" x2="771.00" y2="803.50" stroke="#000" stroke-width="2.5" stroke-linecap="butt"/>
<text transform="translate(756.30,811.58) scale(0.9615,1)" font-size="22.88" text-anchor="end" font-weight="normal" >0</text>
<line x1="821.50" y1="521.30" x2="1028.80" y2="521.30" stroke="#000" stroke-width="2.5" stroke-linecap="butt"/>
<text transform="translate(926.30,517.10) scale(0.9615,1)" font-size="22.36" text-anchor="middle" font-weight="normal" >0.0052</text>
<line x1="821.50" y1="556.30" x2="953.70" y2="556.30" stroke="#000" stroke-width="2.5" stroke-linecap="butt"/>
<text transform="translate(889.50,552.40) scale(0.9615,1)" font-size="22.36" text-anchor="middle" font-weight="normal" >0.0001</text>
<circle cx="806.40" cy="803.40" r="5.7" fill="#d3d3d3" stroke="#000" stroke-width="2.6"/>
<circle cx="813.10" cy="803.40" r="5.7" fill="#d3d3d3" stroke="#000" stroke-width="2.6"/>
<circle cx="826.40" cy="803.40" r="5.7" fill="#d3d3d3" stroke="#000" stroke-width="2.6"/>
<circle cx="799.60" cy="803.40" r="5.7" fill="#d3d3d3" stroke="#000" stroke-width="2.6"/>
<circle cx="819.70" cy="803.40" r="5.7" fill="#d3d3d3" stroke="#000" stroke-width="2.6"/>
<circle cx="833.20" cy="803.40" r="5.7" fill="#d3d3d3" stroke="#000" stroke-width="2.6"/>
<circle cx="868.20" cy="771.70" r="5.7" fill="#d3d3d3" stroke="#000" stroke-width="2.6"/>
<circle cx="884.70" cy="766.30" r="5.7" fill="#d3d3d3" stroke="#000" stroke-width="2.6"/>
<circle cx="901.80" cy="774.70" r="5.7" fill="#d3d3d3" stroke="#000" stroke-width="2.6"/>
<circle cx="868.20" cy="803.40" r="5.7" fill="#d3d3d3" stroke="#000" stroke-width="2.6"/>
<circle cx="884.70" cy="803.40" r="5.7" fill="#d3d3d3" stroke="#000" stroke-width="2.6"/>
<circle cx="901.80" cy="803.40" r="5.7" fill="#d3d3d3" stroke="#000" stroke-width="2.6"/>
<circle cx="953.80" cy="568.10" r="5.7" fill="#d3d3d3" stroke="#000" stroke-width="2.6"/>
<circle cx="953.80" cy="684.00" r="5.7" fill="#d3d3d3" stroke="#000" stroke-width="2.6"/>
<circle cx="970.80" cy="733.90" r="5.7" fill="#d3d3d3" stroke="#000" stroke-width="2.6"/>
<circle cx="953.80" cy="745.30" r="5.7" fill="#d3d3d3" stroke="#000" stroke-width="2.6"/>
<circle cx="970.80" cy="751.50" r="5.7" fill="#d3d3d3" stroke="#000" stroke-width="2.6"/>
<circle cx="936.80" cy="757.10" r="5.7" fill="#d3d3d3" stroke="#000" stroke-width="2.6"/>
<circle cx="1022.00" cy="691.10" r="5.7" fill="#d3d3d3" stroke="#000" stroke-width="2.6"/>
<circle cx="1022.00" cy="704.10" r="5.7" fill="#d3d3d3" stroke="#000" stroke-width="2.6"/>
<circle cx="1022.00" cy="742.20" r="5.7" fill="#d3d3d3" stroke="#000" stroke-width="2.6"/>
<circle cx="1022.00" cy="774.80" r="5.7" fill="#d3d3d3" stroke="#000" stroke-width="2.6"/>
<circle cx="1004.90" cy="781.00" r="5.7" fill="#d3d3d3" stroke="#000" stroke-width="2.6"/>
<circle cx="1039.00" cy="780.00" r="5.7" fill="#d3d3d3" stroke="#000" stroke-width="2.6"/>
<rect x="1323.30" y="797.20" width="40.50" height="6.20" fill="#fcc37f" stroke="#231f20" stroke-width="2.6"/>
<line x1="1343.60" y1="791.00" x2="1343.60" y2="798.60" stroke="#000" stroke-width="2.5" stroke-linecap="butt"/>
<line x1="1332.20" y1="791.00" x2="1355.00" y2="791.00" stroke="#000" stroke-width="2.5" stroke-linecap="butt"/>
<line x1="1332.20" y1="798.60" x2="1355.00" y2="798.60" stroke="#000" stroke-width="2.5" stroke-linecap="butt"/>
<line x1="1161.50" y1="506.05" x2="1161.50" y2="804.65" stroke="#000" stroke-width="2.5" stroke-linecap="butt"/>
<line x1="1148.80" y1="803.40" x2="1458.50" y2="803.40" stroke="#000" stroke-width="2.5" stroke-linecap="butt"/>
<line x1="1148.80" y1="507.30" x2="1161.50" y2="507.30" stroke="#000" stroke-width="2.5" stroke-linecap="butt"/>
<text transform="translate(1146.50,515.38) scale(0.9615,1)" font-size="22.88" text-anchor="end" font-weight="normal" >5</text>
<line x1="1148.80" y1="566.50" x2="1161.50" y2="566.50" stroke="#000" stroke-width="2.5" stroke-linecap="butt"/>
<text transform="translate(1146.50,574.58) scale(0.9615,1)" font-size="22.88" text-anchor="end" font-weight="normal" >4</text>
<line x1="1148.80" y1="625.40" x2="1161.50" y2="625.40" stroke="#000" stroke-width="2.5" stroke-linecap="butt"/>
<text transform="translate(1146.50,633.48) scale(0.9615,1)" font-size="22.88" text-anchor="end" font-weight="normal" >3</text>
<line x1="1148.80" y1="684.80" x2="1161.50" y2="684.80" stroke="#000" stroke-width="2.5" stroke-linecap="butt"/>
<text transform="translate(1146.50,692.88) scale(0.9615,1)" font-size="22.88" text-anchor="end" font-weight="normal" >2</text>
<line x1="1148.80" y1="744.30" x2="1161.50" y2="744.30" stroke="#000" stroke-width="2.5" stroke-linecap="butt"/>
<text transform="translate(1146.50,752.38) scale(0.9615,1)" font-size="22.88" text-anchor="end" font-weight="normal" >1</text>
<line x1="1148.80" y1="803.40" x2="1161.50" y2="803.40" stroke="#000" stroke-width="2.5" stroke-linecap="butt"/>
<text transform="translate(1146.50,811.48) scale(0.9615,1)" font-size="22.88" text-anchor="end" font-weight="normal" >0</text>
<line x1="1204.80" y1="535.50" x2="1412.30" y2="535.50" stroke="#000" stroke-width="2.5" stroke-linecap="butt"/>
<text transform="translate(1310.80,531.40) scale(0.9615,1)" font-size="22.36" text-anchor="middle" font-weight="normal" >0.032</text>
<line x1="1204.80" y1="570.80" x2="1337.70" y2="570.80" stroke="#000" stroke-width="2.5" stroke-linecap="butt"/>
<text transform="translate(1272.00,567.00) scale(0.9615,1)" font-size="22.36" text-anchor="middle" font-weight="normal" >0.072</text>
<circle cx="1196.60" cy="803.30" r="5.7" fill="#d3d3d3" stroke="#000" stroke-width="2.6"/>
<circle cx="1216.70" cy="803.30" r="5.7" fill="#d3d3d3" stroke="#000" stroke-width="2.6"/>
<circle cx="1203.10" cy="803.30" r="5.7" fill="#d3d3d3" stroke="#000" stroke-width="2.6"/>
<circle cx="1190.10" cy="803.30" r="5.7" fill="#d3d3d3" stroke="#000" stroke-width="2.6"/>
<circle cx="1209.90" cy="803.30" r="5.7" fill="#d3d3d3" stroke="#000" stroke-width="2.6"/>
<circle cx="1223.40" cy="803.30" r="5.7" fill="#d3d3d3" stroke="#000" stroke-width="2.6"/>
<circle cx="1264.90" cy="803.30" r="5.7" fill="#d3d3d3" stroke="#000" stroke-width="2.6"/>
<circle cx="1285.00" cy="803.30" r="5.7" fill="#d3d3d3" stroke="#000" stroke-width="2.6"/>
<circle cx="1271.50" cy="803.30" r="5.7" fill="#d3d3d3" stroke="#000" stroke-width="2.6"/>
<circle cx="1258.20" cy="803.30" r="5.7" fill="#d3d3d3" stroke="#000" stroke-width="2.6"/>
<circle cx="1278.30" cy="803.30" r="5.7" fill="#d3d3d3" stroke="#000" stroke-width="2.6"/>
<circle cx="1291.80" cy="803.30" r="5.7" fill="#d3d3d3" stroke="#000" stroke-width="2.6"/>
<circle cx="1326.90" cy="803.40" r="5.7" fill="#d3d3d3" stroke="#000" stroke-width="2.6"/>
<circle cx="1326.90" cy="789.50" r="5.7" fill="#d3d3d3" stroke="#000" stroke-width="2.6"/>
<circle cx="1338.00" cy="794.20" r="5.7" fill="#d3d3d3" stroke="#000" stroke-width="2.6"/>
<circle cx="1349.50" cy="780.20" r="5.7" fill="#d3d3d3" stroke="#000" stroke-width="2.6"/>
<circle cx="1349.50" cy="803.40" r="5.7" fill="#d3d3d3" stroke="#000" stroke-width="2.6"/>
<circle cx="1360.30" cy="795.70" r="5.7" fill="#d3d3d3" stroke="#000" stroke-width="2.6"/>
<circle cx="1394.40" cy="803.40" r="5.7" fill="#d3d3d3" stroke="#000" stroke-width="2.6"/>
<circle cx="1402.10" cy="791.70" r="5.7" fill="#d3d3d3" stroke="#000" stroke-width="2.6"/>
<circle cx="1408.30" cy="800.30" r="5.7" fill="#d3d3d3" stroke="#000" stroke-width="2.6"/>
<circle cx="1415.10" cy="797.90" r="5.7" fill="#d3d3d3" stroke="#000" stroke-width="2.6"/>
<circle cx="1422.30" cy="803.40" r="5.7" fill="#d3d3d3" stroke="#000" stroke-width="2.6"/>
<circle cx="1429.10" cy="800.30" r="5.7" fill="#d3d3d3" stroke="#000" stroke-width="2.6"/>
<rect x="864.50" y="1145.80" width="40.40" height="61.50" fill="#f8ec31" stroke="#231f20" stroke-width="2.6"/>
<rect x="933.50" y="1156.40" width="39.90" height="50.90" fill="#fcc37f" stroke="#231f20" stroke-width="2.6"/>
<rect x="1002.30" y="1039.60" width="40.10" height="167.70" fill="#f02d00" stroke="#231f20" stroke-width="2.6"/>
<line x1="816.40" y1="1196.40" x2="816.40" y2="1207.30" stroke="#000" stroke-width="2.5" stroke-linecap="butt"/>
<line x1="805.20" y1="1196.40" x2="827.80" y2="1196.40" stroke="#000" stroke-width="2.5" stroke-linecap="butt"/>
<line x1="805.20" y1="1207.30" x2="827.80" y2="1207.30" stroke="#000" stroke-width="2.5" stroke-linecap="butt"/>
<line x1="884.70" y1="1128.10" x2="884.70" y2="1157.80" stroke="#000" stroke-width="2.5" stroke-linecap="butt"/>
<line x1="873.20" y1="1128.10" x2="896.50" y2="1128.10" stroke="#000" stroke-width="2.5" stroke-linecap="butt"/>
<line x1="873.20" y1="1157.80" x2="896.50" y2="1157.80" stroke="#000" stroke-width="2.5" stroke-linecap="butt"/>
<line x1="953.80" y1="1140.50" x2="953.80" y2="1167.10" stroke="#000" stroke-width="2.5" stroke-linecap="butt"/>
<line x1="942.00" y1="1140.50" x2="964.60" y2="1140.50" stroke="#000" stroke-width="2.5" stroke-linecap="butt"/>
<line x1="942.00" y1="1167.10" x2="964.60" y2="1167.10" stroke="#000" stroke-width="2.5" stroke-linecap="butt"/>
<line x1="1022.00" y1="1010.60" x2="1022.00" y2="1063.00" stroke="#000" stroke-width="2.5" stroke-linecap="butt"/>
<line x1="1011.00" y1="1010.60" x2="1032.80" y2="1010.60" stroke="#000" stroke-width="2.5" stroke-linecap="butt"/>
<line x1="1011.00" y1="1063.00" x2="1032.80" y2="1063.00" stroke="#000" stroke-width="2.5" stroke-linecap="butt"/>
<line x1="771.00" y1="908.75" x2="771.00" y2="1208.55" stroke="#000" stroke-width="2.5" stroke-linecap="butt"/>
<line x1="758.40" y1="1207.30" x2="1068.40" y2="1207.30" stroke="#000" stroke-width="2.5" stroke-linecap="butt"/>
<line x1="758.40" y1="910.00" x2="771.00" y2="910.00" stroke="#000" stroke-width="2.5" stroke-linecap="butt"/>
<text transform="translate(756.30,918.08) scale(0.9615,1)" font-size="22.88" text-anchor="end" font-weight="normal" >100</text>
<line x1="758.40" y1="970.00" x2="771.00" y2="970.00" stroke="#000" stroke-width="2.5" stroke-linecap="butt"/>
<text transform="translate(756.30,978.08) scale(0.9615,1)" font-size="22.88" text-anchor="end" font-weight="normal" >80</text>
<line x1="758.40" y1="1029.20" x2="771.00" y2="1029.20" stroke="#000" stroke-width="2.5" stroke-linecap="butt"/>
<text transform="translate(756.30,1037.28) scale(0.9615,1)" font-size="22.88" text-anchor="end" font-weight="normal" >60</text>
<line x1="758.40" y1="1088.70" x2="771.00" y2="1088.70" stroke="#000" stroke-width="2.5" stroke-linecap="butt"/>
<text transform="translate(756.30,1096.78) scale(0.9615,1)" font-size="22.88" text-anchor="end" font-weight="normal" >40</text>
<line x1="758.40" y1="1148.20" x2="771.00" y2="1148.20" stroke="#000" stroke-width="2.5" stroke-linecap="butt"/>
<text transform="translate(756.30,1156.28) scale(0.9615,1)" font-size="22.88" text-anchor="end" font-weight="normal" >20</text>
<line x1="758.40" y1="1207.30" x2="771.00" y2="1207.30" stroke="#000" stroke-width="2.5" stroke-linecap="butt"/>
<text transform="translate(756.30,1215.38) scale(0.9615,1)" font-size="22.88" text-anchor="end" font-weight="normal" >0</text>
<line x1="816.50" y1="919.20" x2="1023.50" y2="919.20" stroke="#000" stroke-width="2.5" stroke-linecap="butt"/>
<text transform="translate(914.40,916.00) scale(0.9615,1)" font-size="22.36" text-anchor="middle" font-weight="normal" >&lt;0.0001</text>
<line x1="891.80" y1="943.10" x2="1023.50" y2="943.10" stroke="#000" stroke-width="2.5" stroke-linecap="butt"/>
<text transform="translate(957.80,940.80) scale(0.9615,1)" font-size="22.36" text-anchor="middle" font-weight="normal" >0.015</text>
<line x1="814.40" y1="998.30" x2="881.00" y2="998.30" stroke="#000" stroke-width="2.5" stroke-linecap="butt"/>
<text transform="translate(846.30,995.00) scale(0.9615,1)" font-size="22.36" text-anchor="middle" font-weight="normal" >0.061</text>
<line x1="955.30" y1="996.40" x2="1023.50" y2="996.40" stroke="#000" stroke-width="2.5" stroke-linecap="butt"/>
<text transform="translate(990.40,992.50) scale(0.9615,1)" font-size="22.36" text-anchor="middle" font-weight="normal" >0.0043</text>
<circle cx="808.00" cy="1207.10" r="5.7" fill="#d3d3d3" stroke="#000" stroke-width="2.6"/>
<circle cx="824.80" cy="1207.10" r="5.7" fill="#d3d3d3" stroke="#000" stroke-width="2.6"/>
<circle cx="816.40" cy="1207.10" r="5.7" fill="#d3d3d3" stroke="#000" stroke-width="2.6"/>
<circle cx="799.60" cy="1207.10" r="5.7" fill="#d3d3d3" stroke="#000" stroke-width="2.6"/>
<circle cx="833.20" cy="1207.10" r="5.7" fill="#d3d3d3" stroke="#000" stroke-width="2.6"/>
<circle cx="816.40" cy="1174.50" r="5.7" fill="#d3d3d3" stroke="#000" stroke-width="2.6"/>
<circle cx="884.70" cy="1101.10" r="5.7" fill="#d3d3d3" stroke="#000" stroke-width="2.6"/>
<circle cx="884.70" cy="1117.50" r="5.7" fill="#d3d3d3" stroke="#000" stroke-width="2.6"/>
<circle cx="868.00" cy="1132.70" r="5.7" fill="#d3d3d3" stroke="#000" stroke-width="2.6"/>
<circle cx="902.00" cy="1143.90" r="5.7" fill="#d3d3d3" stroke="#000" stroke-width="2.6"/>
<circle cx="884.70" cy="1155.40" r="5.7" fill="#d3d3d3" stroke="#000" stroke-width="2.6"/>
<circle cx="884.70" cy="1207.10" r="5.7" fill="#d3d3d3" stroke="#000" stroke-width="2.6"/>
<circle cx="953.80" cy="1116.60" r="5.7" fill="#d3d3d3" stroke="#000" stroke-width="2.6"/>
<circle cx="970.80" cy="1132.70" r="5.7" fill="#d3d3d3" stroke="#000" stroke-width="2.6"/>
<circle cx="953.80" cy="1138.30" r="5.7" fill="#d3d3d3" stroke="#000" stroke-width="2.6"/>
<circle cx="953.80" cy="1156.30" r="5.7" fill="#d3d3d3" stroke="#000" stroke-width="2.6"/>
<circle cx="953.80" cy="1174.00" r="5.7" fill="#d3d3d3" stroke="#000" stroke-width="2.6"/>
<circle cx="953.80" cy="1207.10" r="5.7" fill="#d3d3d3" stroke="#000" stroke-width="2.6"/>
<circle cx="1004.90" cy="961.70" r="5.7" fill="#d3d3d3" stroke="#000" stroke-width="2.6"/>
<circle cx="1022.00" cy="959.50" r="5.7" fill="#d3d3d3" stroke="#000" stroke-width="2.6"/>
<circle cx="1022.00" cy="1032.00" r="5.7" fill="#d3d3d3" stroke="#000" stroke-width="2.6"/>
<circle cx="1022.00" cy="1073.90" r="5.7" fill="#d3d3d3" stroke="#000" stroke-width="2.6"/>
<circle cx="1022.00" cy="1088.70" r="5.7" fill="#d3d3d3" stroke="#000" stroke-width="2.6"/>
<circle cx="1022.00" cy="1108.30" r="5.7" fill="#d3d3d3" stroke="#000" stroke-width="2.6"/>
<rect x="1391.90" y="1150.00" width="40.30" height="57.20" fill="#f02d00" stroke="#231f20" stroke-width="2.6"/>
<line x1="1205.70" y1="1198.20" x2="1205.70" y2="1207.20" stroke="#000" stroke-width="2.5" stroke-linecap="butt"/>
<line x1="1194.40" y1="1198.20" x2="1217.40" y2="1198.20" stroke="#000" stroke-width="2.5" stroke-linecap="butt"/>
<line x1="1194.40" y1="1207.20" x2="1217.40" y2="1207.20" stroke="#000" stroke-width="2.5" stroke-linecap="butt"/>
<line x1="1274.50" y1="1197.60" x2="1274.50" y2="1207.20" stroke="#000" stroke-width="2.5" stroke-linecap="butt"/>
<line x1="1263.20" y1="1197.60" x2="1285.80" y2="1197.60" stroke="#000" stroke-width="2.5" stroke-linecap="butt"/>
<line x1="1263.20" y1="1207.20" x2="1285.80" y2="1207.20" stroke="#000" stroke-width="2.5" stroke-linecap="butt"/>
<line x1="1412.00" y1="1119.60" x2="1412.00" y2="1175.00" stroke="#000" stroke-width="2.5" stroke-linecap="butt"/>
<line x1="1400.60" y1="1119.60" x2="1423.20" y2="1119.60" stroke="#000" stroke-width="2.5" stroke-linecap="butt"/>
<line x1="1400.60" y1="1175.00" x2="1423.20" y2="1175.00" stroke="#000" stroke-width="2.5" stroke-linecap="butt"/>
<line x1="1160.50" y1="908.65" x2="1160.50" y2="1208.45" stroke="#000" stroke-width="2.5" stroke-linecap="butt"/>
<line x1="1148.10" y1="1207.20" x2="1458.50" y2="1207.20" stroke="#000" stroke-width="2.5" stroke-linecap="butt"/>
<line x1="1148.10" y1="909.90" x2="1160.50" y2="909.90" stroke="#000" stroke-width="2.5" stroke-linecap="butt"/>
<text transform="translate(1146.00,917.98) scale(0.9615,1)" font-size="22.88" text-anchor="end" font-weight="normal" >20</text>
<line x1="1148.10" y1="984.20" x2="1160.50" y2="984.20" stroke="#000" stroke-width="2.5" stroke-linecap="butt"/>
<text transform="translate(1146.00,992.28) scale(0.9615,1)" font-size="22.88" text-anchor="end" font-weight="normal" >15</text>
<line x1="1148.10" y1="1058.60" x2="1160.50" y2="1058.60" stroke="#000" stroke-width="2.5" stroke-linecap="butt"/>
<text transform="translate(1146.00,1066.68) scale(0.9615,1)" font-size="22.88" text-anchor="end" font-weight="normal" >10</text>
<line x1="1148.10" y1="1132.90" x2="1160.50" y2="1132.90" stroke="#000" stroke-width="2.5" stroke-linecap="butt"/>
<text transform="translate(1146.00,1140.98) scale(0.9615,1)" font-size="22.88" text-anchor="end" font-weight="normal" >5</text>
<line x1="1148.10" y1="1207.20" x2="1160.50" y2="1207.20" stroke="#000" stroke-width="2.5" stroke-linecap="butt"/>
<text transform="translate(1146.00,1215.28) scale(0.9615,1)" font-size="22.88" text-anchor="end" font-weight="normal" >0</text>
<line x1="1205.40" y1="945.50" x2="1412.30" y2="945.50" stroke="#000" stroke-width="2.5" stroke-linecap="butt"/>
<text transform="translate(1302.40,941.40) scale(0.9615,1)" font-size="22.36" text-anchor="middle" font-weight="normal" >0.0044</text>
<line x1="1280.70" y1="973.40" x2="1412.30" y2="973.40" stroke="#000" stroke-width="2.5" stroke-linecap="butt"/>
<text transform="translate(1344.80,969.60) scale(0.9615,1)" font-size="22.36" text-anchor="middle" font-weight="normal" >0.0056</text>
<line x1="1344.20" y1="1000.40" x2="1412.30" y2="1000.40" stroke="#000" stroke-width="2.5" stroke-linecap="butt"/>
<text transform="translate(1377.30,997.40) scale(0.9615,1)" font-size="22.36" text-anchor="middle" font-weight="normal" >0.026</text>
<circle cx="1197.10" cy="1207.20" r="5.7" fill="#d3d3d3" stroke="#000" stroke-width="2.6"/>
<circle cx="1214.20" cy="1207.20" r="5.7" fill="#d3d3d3" stroke="#000" stroke-width="2.6"/>
<circle cx="1188.60" cy="1207.20" r="5.7" fill="#d3d3d3" stroke="#000" stroke-width="2.6"/>
<circle cx="1205.70" cy="1207.20" r="5.7" fill="#d3d3d3" stroke="#000" stroke-width="2.6"/>
<circle cx="1222.70" cy="1207.20" r="5.7" fill="#d3d3d3" stroke="#000" stroke-width="2.6"/>
<circle cx="1206.10" cy="1179.40" r="5.7" fill="#d3d3d3" stroke="#000" stroke-width="2.6"/>
<circle cx="1266.00" cy="1207.20" r="5.7" fill="#d3d3d3" stroke="#000" stroke-width="2.6"/>
<circle cx="1283.00" cy="1207.20" r="5.7" fill="#d3d3d3" stroke="#000" stroke-width="2.6"/>
<circle cx="1257.40" cy="1207.20" r="5.7" fill="#d3d3d3" stroke="#000" stroke-width="2.6"/>
<circle cx="1274.50" cy="1207.20" r="5.7" fill="#d3d3d3" stroke="#000" stroke-width="2.6"/>
<circle cx="1291.60" cy="1207.20" r="5.7" fill="#d3d3d3" stroke="#000" stroke-width="2.6"/>
<circle cx="1274.50" cy="1178.50" r="5.7" fill="#d3d3d3" stroke="#000" stroke-width="2.6"/>
<circle cx="1333.00" cy="1203.20" r="5.7" fill="#d3d3d3" stroke="#000" stroke-width="2.6"/>
<circle cx="1345.60" cy="1204.10" r="5.7" fill="#d3d3d3" stroke="#000" stroke-width="2.6"/>
<circle cx="1339.30" cy="1208.20" r="5.7" fill="#d3d3d3" stroke="#000" stroke-width="2.6"/>
<circle cx="1360.00" cy="1206.40" r="5.7" fill="#d3d3d3" stroke="#000" stroke-width="2.6"/>
<circle cx="1325.80" cy="1207.20" r="5.7" fill="#d3d3d3" stroke="#000" stroke-width="2.6"/>
<circle cx="1352.80" cy="1207.20" r="5.7" fill="#d3d3d3" stroke="#000" stroke-width="2.6"/>
<circle cx="1412.00" cy="1014.30" r="5.7" fill="#d3d3d3" stroke="#000" stroke-width="2.6"/>
<circle cx="1395.00" cy="1152.10" r="5.7" fill="#d3d3d3" stroke="#000" stroke-width="2.6"/>
<circle cx="1412.00" cy="1149.60" r="5.7" fill="#d3d3d3" stroke="#000" stroke-width="2.6"/>
<circle cx="1428.80" cy="1179.40" r="5.7" fill="#d3d3d3" stroke="#000" stroke-width="2.6"/>
<circle cx="1411.70" cy="1187.50" r="5.7" fill="#d3d3d3" stroke="#000" stroke-width="2.6"/>
<circle cx="1411.70" cy="1201.00" r="5.7" fill="#d3d3d3" stroke="#000" stroke-width="2.6"/>
<text transform="translate(143.43,486.60) scale(0.9615,1)" font-size="31.20" text-anchor="start" font-weight="normal" letter-spacing="-0.424" >IFNγ<tspan font-size="18.7" dy="-9.9">+</tspan><tspan dy="9.9"> OTI</tspan></text>
<text transform="translate(429.55,487.10) scale(0.9615,1)" font-size="31.20" text-anchor="start" font-weight="normal" letter-spacing="-0.249" >IL-4<tspan font-size="18.7" dy="-9.9">+</tspan><tspan dy="9.9"> OTI</tspan></text>
<text transform="translate(162.05,889.70) scale(0.9615,1)" font-size="31.20" text-anchor="start" font-weight="normal" letter-spacing="-0.176" >IL-5<tspan font-size="18.7" dy="-9.9">+</tspan><tspan dy="9.9"> OTI</tspan></text>
<text transform="translate(424.01,889.70) scale(0.9615,1)" font-size="31.20" text-anchor="start" font-weight="normal" letter-spacing="-0.422" >IL-13<tspan font-size="18.7" dy="-9.9">+</tspan><tspan dy="9.9"> OTI</tspan></text>
<text transform="translate(827.22,52.50) scale(0.9615,1)" font-size="31.20" text-anchor="start" font-weight="normal" letter-spacing="0.060" >Eosinophils</text>
<text transform="translate(1183.45,59.70) scale(0.9615,1)" font-size="31.20" text-anchor="start" font-weight="normal" letter-spacing="0.027" >OTI CD8<tspan font-size="18.7" dy="-9.9">+</tspan><tspan dy="9.9"> T cells</tspan></text>
<text transform="translate(886.09,464.90) scale(0.9615,1)" font-size="31.20" text-anchor="start" font-weight="normal" letter-spacing="-0.100" >IFNγ<tspan font-size="18.7" dy="-9.9">+</tspan></text>
<text transform="translate(1277.51,464.30) scale(0.9615,1)" font-size="31.20" text-anchor="start" font-weight="normal" letter-spacing="-0.300" >IL-4<tspan font-size="18.7" dy="-9.9">+</tspan></text>
<text transform="translate(883.91,868.70) scale(0.9615,1)" font-size="31.20" text-anchor="start" font-weight="normal" letter-spacing="0.150" >IL-5<tspan font-size="18.7" dy="-9.9">+</tspan></text>
<text transform="translate(1264.97,868.70) scale(0.9615,1)" font-size="31.20" text-anchor="start" font-weight="normal" letter-spacing="0.000" >IL-13<tspan font-size="18.7" dy="-9.9">+</tspan></text>
<text transform="translate(54.80,657.20) rotate(-90) scale(0.9615,1)" font-size="31.20" text-anchor="middle">Cell numbers (x10<tspan font-size="18.0" dy="-10.8">4</tspan><tspan dy="10.8">)</tspan></text>
<text transform="translate(61.10,1058.80) rotate(-90) scale(0.9615,1)" font-size="31.20" text-anchor="middle">Cell numbers (x10<tspan font-size="18.0" dy="-10.8">4</tspan><tspan dy="10.8">)</tspan></text>
<text transform="translate(707.90,232.50) rotate(-90) scale(0.9615,1)" font-size="31.20" text-anchor="middle">Cell numbers (x10<tspan font-size="18.0" dy="-10.8">6</tspan><tspan dy="10.8">)</tspan></text>
<text transform="translate(707.80,655.00) rotate(-90) scale(0.9615,1)" font-size="31.20" text-anchor="middle">% OTI CD8<tspan font-size="18.0" dy="-10.8">+</tspan><tspan dy="10.8"> T cells</tspan></text>
<text transform="translate(707.80,1062.40) rotate(-90) scale(0.9615,1)" font-size="31.20" text-anchor="middle">% OTI CD8<tspan font-size="18.0" dy="-10.8">+</tspan><tspan dy="10.8"> T cells</tspan></text>
<text transform="translate(119.50,1269.20) scale(0.9615,1)" font-size="27.04" text-anchor="start" font-weight="normal" letter-spacing="-0.100" >MLN</text>
<circle cx="211.5" cy="1263.1" r="26.0" fill="#e64d1c" stroke="#1a1a1a" stroke-width="2.6"/>
<g stroke="#fff" stroke-width="2.4" fill="none"><line x1="204.9" y1="1247.3" x2="205.7" y2="1255.5"/><line x1="221.0" y1="1261.2" x2="229.1" y2="1256.9"/><line x1="207.6" y1="1271.5" x2="204.5" y2="1280.2"/></g>
<ellipse cx="210.2" cy="1263.4" rx="12.4" ry="8.8" fill="#fff"/>
<rect x="264.00" y="1250.50" width="24.20" height="23.80" fill="#d3d3d3" stroke="#231f20" stroke-width="2"/>
<text transform="translate(295.50,1272.10) scale(0.9615,1)" font-size="31.20" text-anchor="start" font-weight="normal" letter-spacing="-0.200" >PBS</text>
<rect x="385.50" y="1250.20" width="24.70" height="24.60" fill="#fcc37f" stroke="#231f20" stroke-width="2"/>
<text transform="translate(419.00,1273.70) scale(0.9615,1)" font-size="31.20" text-anchor="start" font-weight="normal" letter-spacing="0.134" >OVA+HDM</text>
<text transform="translate(657.00,1271.70) scale(0.9615,1)" font-size="27.04" text-anchor="start" font-weight="normal" letter-spacing="0.300" >BAL</text>
<circle cx="739.0" cy="1263.5" r="25.3" fill="#009fe3" stroke="#1a1a1a" stroke-width="2.2"/>
<g fill="#fff"><path d="M735.3,1247.1 C733.2,1247.0 729.5,1250.5 726.5,1255.5 C723.0,1261.0 720.5,1266.0 720.3,1271.0 C720.1,1275.0 720.8,1278.0 723.0,1278.3 C725.5,1278.6 727.0,1275.6 729.0,1275.1 L734.3,1274.9 C735.6,1274.6 736.0,1273.8 736.0,1272.5 L736.0,1258.6 L735.8,1248.0 Z"/><path transform="translate(1477,0) scale(-1,1)" d="M735.3,1247.1 C733.2,1247.0 729.5,1250.5 726.5,1255.5 C723.0,1261.0 720.5,1266.0 720.3,1271.0 C720.1,1275.0 720.8,1278.0 723.0,1278.3 C725.5,1278.6 727.0,1275.6 729.0,1275.1 L734.3,1274.9 C735.6,1274.6 736.0,1273.8 736.0,1272.5 L736.0,1258.6 L735.8,1248.0 Z"/><rect x="736.0" y="1245.3" width="5.0" height="10.6"/><path d="M736.0,1256.0 L738.5,1254.6 L741.0,1256.0 L741.0,1258.7 L738.5,1256.7 L736.0,1258.7 Z"/></g>
<g fill="#009fe3"><rect x="737.1" y="1247.0" width="2.9" height="1.1"/><rect x="737.1" y="1249.9" width="2.9" height="1.1"/><rect x="737.1" y="1252.8" width="2.9" height="1.1"/></g>
<rect x="784.70" y="1251.80" width="23.90" height="23.80" fill="#d3d3d3" stroke="#231f20" stroke-width="2"/>
<text transform="translate(817.00,1272.40) scale(0.9615,1)" font-size="31.20" text-anchor="start" font-weight="normal" letter-spacing="-0.600" >PBS</text>
<rect x="901.20" y="1251.80" width="24.40" height="23.80" fill="#f8ec31" stroke="#231f20" stroke-width="2"/>
<text transform="translate(933.50,1273.60) scale(0.9615,1)" font-size="31.20" text-anchor="start" font-weight="normal" letter-spacing="-0.100" >IL-33</text>
<rect x="1024.30" y="1251.30" width="25.20" height="24.40" fill="#fcc37f" stroke="#231f20" stroke-width="2"/>
<text transform="translate(1057.50,1275.50) scale(0.9615,1)" font-size="31.20" text-anchor="start" font-weight="normal" letter-spacing="0.300" >OVA+HDM</text>
<rect x="1233.70" y="1251.30" width="24.60" height="24.40" fill="#f02d00" stroke="#231f20" stroke-width="2"/>
<text transform="translate(1266.50,1271.70) scale(0.9615,1)" font-size="31.20" text-anchor="start" font-weight="normal" letter-spacing="0.066" >OVA+HDM+IL-33</text>
</svg></body></html>
